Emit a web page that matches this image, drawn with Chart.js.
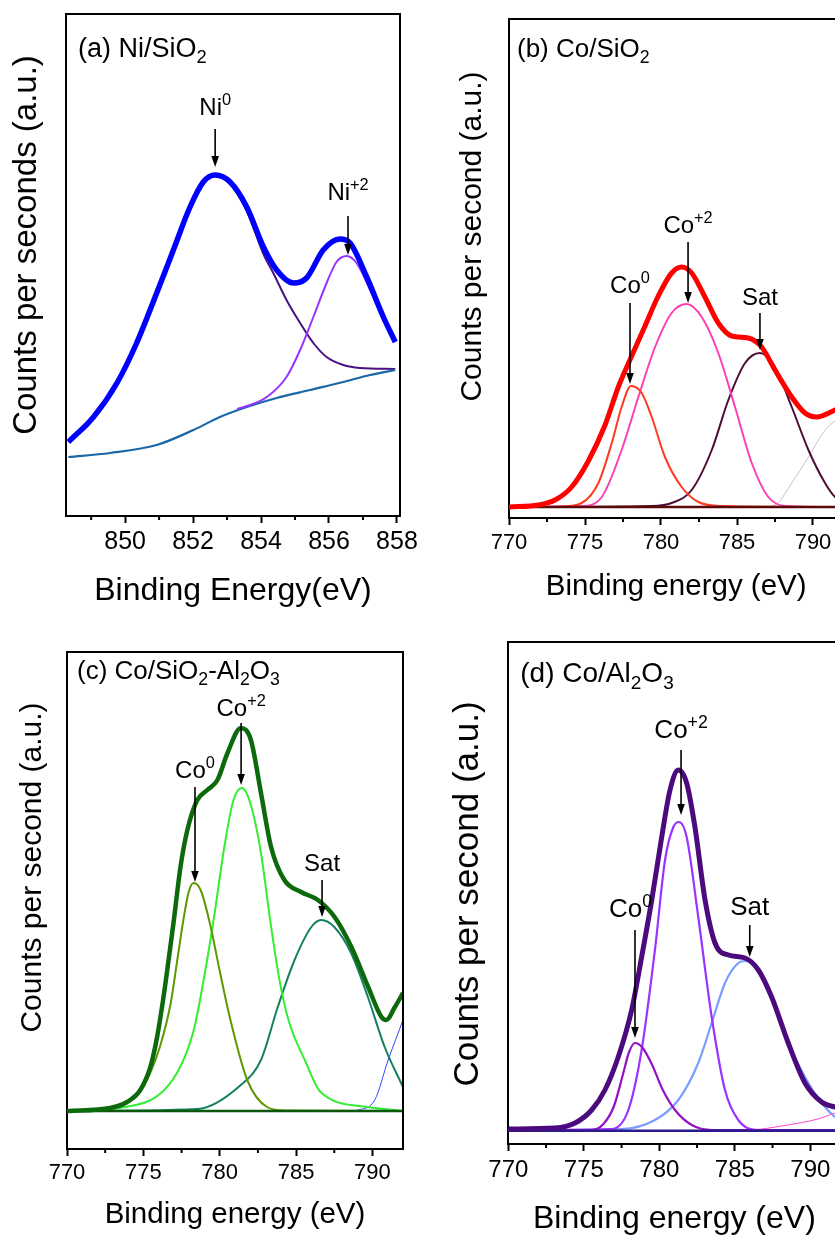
<!DOCTYPE html>
<html>
<head>
<meta charset="utf-8">
<script src="https://cdn.jsdelivr.net/npm/chart.js@4.4.1/dist/chart.umd.min.js"></script>
<style>
  html, body { margin: 0; padding: 0; background: #fff; }
  body { position: relative; width: 835px; height: 1237px; overflow: hidden; }
  canvas { position: absolute; }
</style>
</head>
<body>
<canvas id="chartA" width="420" height="630" style="left:0;top:0"></canvas>
<canvas id="chartB" width="460" height="630" style="left:420px;top:0"></canvas>
<canvas id="chartC" width="420" height="620" style="left:0;top:630px"></canvas>
<canvas id="chartD" width="460" height="620" style="left:420px;top:630px"></canvas>
<script>
// XPS Ni 2p / Co 2p fits (arbitrary counts)

// (a) Ni/SiO2
const aTicks = [850, 852, 854, 856, 858];
const aMinor = [849, 851, 853, 855, 857];
const aTotal = [[848.33, 74], [849.07, 99], [849.76, 133], [850.34, 173], [850.93, 223], [851.42, 266], [851.91, 309], [852.3, 334], [852.65, 341], [853.09, 334], [853.58, 309], [854.07, 269], [854.46, 246], [854.95, 233], [855.34, 238], [855.83, 266], [856.32, 277], [856.62, 273], [857.11, 239], [857.6, 199], [857.95, 174]];
const aNi0 = [[848.33, 74], [849.07, 99], [849.76, 133], [850.34, 173], [850.93, 223], [851.42, 266], [851.91, 309], [852.3, 334], [852.65, 341], [853.09, 333], [853.58, 305], [854.07, 262], [854.36, 243], [854.75, 216], [855.15, 193], [855.54, 173], [855.93, 159], [856.42, 151], [856.91, 148], [857.95, 147]];
const aNi2 = [[853.3, 107], [853.58, 110], [854.17, 119], [854.75, 139], [855.15, 166], [855.54, 199], [855.93, 233], [856.22, 254], [856.52, 260], [856.81, 253], [857.21, 226], [857.6, 196], [857.95, 174]];
const aBackground = [[848.33, 59], [849.56, 63], [850.93, 71], [852.01, 86], [852.79, 99], [853.58, 109], [854.46, 118], [855.44, 126], [856.42, 134], [857.21, 141], [857.95, 146]];

// (b) Co/SiO2
const coTicks = [770, 775, 780, 785, 790];
const coMinor = [772.5, 777.5, 782.5, 787.5];
const bTotal = [[770, 11], [771.93, 13], [773.03, 18], [774.12, 31], [775.22, 57], [776.32, 93], [777.19, 131], [778.07, 162], [778.95, 192], [779.82, 222], [780.7, 245], [781.36, 251], [782.02, 245], [782.89, 221], [783.77, 195], [784.65, 182], [785.74, 180], [786.62, 171], [787.5, 148], [788.6, 121], [789.47, 105], [790.24, 101], [791.45, 108], [792, 112]];
const bCo0 = [[770, 11], [773.5, 11.5], [774.78, 15], [775.88, 35], [776.76, 75], [777.41, 111], [778.03, 132], [778.73, 125], [779.39, 101], [780.26, 61], [781.36, 31], [782.46, 16], [784, 12], [792, 11]];
const bCo2 = [[770, 11], [774.78, 12], [776.1, 21], [777.41, 68], [778.51, 121], [779.61, 171], [780.7, 205], [781.69, 214], [782.68, 201], [783.77, 165], [784.87, 111], [785.97, 55], [787.06, 21], [788.2, 12], [792, 11]];
const bSat = [[770, 11], [779.39, 12], [780.7, 15], [782.02, 28], [783.34, 68], [784.43, 118], [785.53, 155], [786.51, 165], [787.5, 151], [788.6, 111], [789.7, 68], [790.79, 35], [791.45, 21], [792, 17]];
const bExtra = [[785, 11], [786.5, 11], [787.5, 13], [788.6, 35], [789.7, 61], [790.8, 88], [791.45, 97], [792, 103]];
const bBackground = [[770, 11], [792, 11]];

// (c) Co/SiO2-Al2O3
const cTotal = [[770, 38], [772.83, 41], [773.93, 47], [774.8, 59], [775.46, 82], [775.9, 112], [776.3, 150], [776.66, 190], [776.99, 228], [777.43, 282], [777.88, 319], [778.53, 349], [779.19, 359], [779.85, 369], [780.51, 396], [781.38, 421], [782.04, 409], [782.7, 356], [783.36, 302], [784.23, 269], [785.33, 257], [786.43, 249], [787.52, 232], [788.62, 202], [789.72, 162], [790.59, 132], [790.9, 129], [791.47, 142], [792, 156]];
const cCo0 = [[770, 38], [772.8, 40], [774.3, 50], [774.8, 58], [775.5, 78], [776.1, 103], [776.78, 145], [777.29, 196], [777.62, 229], [777.95, 256], [778.28, 266], [778.75, 259], [779.41, 222], [780.0, 178], [780.7, 129], [781.8, 69], [783.1, 42], [784.3, 38.5], [792, 38]];
const cCo2 = [[770, 38], [775.0, 46], [777.2, 76], [778.3, 119], [778.9, 165], [779.6, 229], [780.3, 302], [780.9, 349], [781.45, 361], [782.0, 346], [782.7, 296], [783.3, 229], [783.9, 170], [784.5, 129], [785.6, 88], [786.6, 57], [789.7, 42], [792, 38]];
const cSat = [[770, 38], [778.53, 40], [781.38, 64], [782.7, 89], [783.8, 142], [784.9, 189], [786.0, 222], [786.64, 229], [787.5, 222], [788.6, 196], [789.7, 152], [790.8, 102], [792, 62]];
const cExtra = [[788.5, 38], [789.06, 39], [790.15, 49], [791.03, 89], [792, 129]];
const cBackground = [[770, 38], [792, 38]];

// (d) Co/Al2O3
const dTotal = [[770, 15], [773.09, 16], [774.42, 21], [775.52, 34], [776.4, 54], [777.28, 87], [778.17, 134], [778.83, 187], [779.5, 244], [780.16, 307], [780.71, 354], [781.26, 374], [781.81, 361], [782.36, 317], [783.03, 244], [783.69, 201], [784.57, 189], [785.68, 186], [786.56, 174], [787.44, 147], [788.54, 101], [789.65, 61], [790.75, 42], [791.64, 37], [792, 36]];
const dCo0 = [[770, 14], [775.5, 14], [776.3, 20], [777.0, 38], [777.6, 70], [778.0, 92], [778.39, 101], [778.9, 96], [779.5, 80], [780.2, 55], [781.04, 34], [782.15, 19], [783.5, 14], [792, 14]];
const dCo2 = [[770, 14], [776.85, 15], [777.95, 34], [778.83, 94], [779.71, 194], [780.38, 284], [780.93, 317], [781.31, 322], [781.81, 307], [782.58, 227], [783.47, 127], [784.35, 54], [785.23, 24], [786.6, 14], [792, 14]];
const dSat = [[770, 14], [777.5, 15], [779.71, 24], [781.26, 44], [782.58, 81], [783.47, 121], [784.35, 161], [785.23, 181], [785.68, 183], [786.56, 174], [787.44, 147], [788.54, 101], [789.65, 67], [790.75, 41], [791.64, 27], [792, 24]];
const dExtra = [[784, 14], [785.8, 14], [788.5, 19], [790.5, 25], [791.64, 31], [792, 33]];
const dBackground = [[770, 13.3], [792, 13.3]];

// peak annotations (energy, label baseline, arrow start / tip in counts)
const aPeaks = [
  { label: "Ni", sup: "0", x: 852.65, textY: 401, from: 387, to: 349 },
  { label: "Ni", sup: "+2", x: 856.56, textY: 316, from: 300, to: 261 },
];
const bPeaks = [
  { label: "Co", sup: "0", x: 777.96, textY: 225, from: 215, to: 134 },
  { label: "Co", sup: "+2", x: 781.78, textY: 285, from: 276, to: 215 },
  { label: "Sat", sup: "", x: 786.51, textY: 213, from: 205, to: 168 },
];
const cPeaks = [
  { label: "Co", sup: "0", x: 778.38, textY: 371, from: 362, to: 267 },
  { label: "Co", sup: "+2", x: 781.4, textY: 433, from: 426, to: 364 },
  { label: "Sat", sup: "", x: 786.7, textY: 278, from: 269, to: 232 },
];
const dPeaks = [
  { label: "Co", sup: "0", x: 778.39, tx: 778.09, textY: 227, from: 214, to: 106 },
  { label: "Co", sup: "+2", x: 781.44, textY: 406, from: 394, to: 329 },
  { label: "Sat", sup: "", x: 785.99, textY: 229, from: 219, to: 187 },
];

const FONT = '"Liberation Sans", Arial, Helvetica, sans-serif';

function pts(arr) {
  return arr.map(([x, y]) => ({ x, y }));
}

function curve(data, color, width) {
  return {
    data: pts(data),
    borderColor: color,
    borderWidth: width,
    pointRadius: 0,
    fill: false,
    cubicInterpolationMode: "monotone",
  };
}

function flat(data, color, width) {
  return { data: pts(data), borderColor: color, borderWidth: width, pointRadius: 0, fill: false, tension: 0 };
}

// draws text made of [string, "sub"|"sup"|""] pieces, returns width
function richText(ctx, parts, size, x, y, measureOnly) {
  let cx = x;
  for (const [t, kind] of parts) {
    const s = kind ? size * 0.68 : size;
    const dy = kind === "sub" ? size * 0.24 : kind === "sup" ? -size * 0.4 : 0;
    ctx.font = `${s}px ${FONT}`;
    if (!measureOnly) ctx.fillText(t, cx, y + dy);
    cx += ctx.measureText(t).width;
  }
  return cx - x;
}

const decor = {
  id: "decor",
  afterDraw(chart, args, opts) {
    const { ctx, chartArea: a, scales } = chart;
    const xs = scales.x;
    const ys = scales.y;
    ctx.save();
    ctx.strokeStyle = "#000";
    ctx.fillStyle = "#000";

    // closing frame (top + right)
    ctx.lineWidth = 2;
    ctx.beginPath();
    ctx.moveTo(a.left - 1, a.top);
    ctx.lineTo(a.right, a.top);
    ctx.lineTo(a.right, a.bottom + 1);
    ctx.stroke();

    // minor ticks
    opts.minor.forEach((v) => {
      const px = xs.getPixelForValue(v);
      ctx.beginPath();
      ctx.moveTo(px, a.bottom);
      ctx.lineTo(px, a.bottom + 4);
      ctx.stroke();
    });

    // y title
    const yt = opts.yTitle;
    ctx.save();
    ctx.translate(a.left + yt.dx, a.top + yt.dy);
    ctx.rotate(-Math.PI / 2);
    ctx.font = `${yt.size}px ${FONT}`;
    ctx.textAlign = "center";
    ctx.textBaseline = "middle";
    ctx.fillText(yt.text, 0, 0);
    ctx.restore();

    // panel title
    ctx.textAlign = "left";
    ctx.textBaseline = "alphabetic";
    const pt = opts.panelTitle;
    richText(ctx, pt.parts, pt.size, a.left + pt.dx, a.top + pt.dy);

    // peak labels with arrows
    opts.peaks.forEach((p) => {
      const parts = [[p.label, ""]];
      if (p.sup) parts.push([p.sup, "sup"]);
      const w = richText(ctx, parts, opts.peakSize, 0, 0, true);
      const cx = xs.getPixelForValue(p.tx ?? p.x);
      richText(ctx, parts, opts.peakSize, cx - w / 2, ys.getPixelForValue(p.textY));
      const ax = xs.getPixelForValue(p.x);
      const y0 = ys.getPixelForValue(p.from);
      const y1 = ys.getPixelForValue(p.to);
      ctx.lineWidth = 1.6;
      ctx.beginPath();
      ctx.moveTo(ax, y0);
      ctx.lineTo(ax, y1 - 8);
      ctx.stroke();
      ctx.beginPath();
      ctx.moveTo(ax - 3.8, y1 - 11);
      ctx.lineTo(ax + 3.8, y1 - 11);
      ctx.lineTo(ax, y1);
      ctx.closePath();
      ctx.fill();
    });
    ctx.restore();
  },
};

function makePanel(id, cfg) {
  const ticks = cfg.ticks;
  new Chart(document.getElementById(id), {
    type: "line",
    data: { datasets: cfg.datasets },
    options: {
      responsive: false,
      animation: false,
      events: [],
      layout: { padding: cfg.pad },
      plugins: {
        legend: { display: false },
        tooltip: { enabled: false },
        decor: {
          minor: cfg.minor,
          yTitle: cfg.yTitle,
          panelTitle: cfg.panelTitle,
          peaks: cfg.peaks,
          peakSize: cfg.peakSize,
        },
      },
      scales: {
        x: {
          type: "linear",
          min: cfg.xMin,
          max: cfg.xMax,
          afterBuildTicks: (s) => {
            s.ticks = ticks.map((v) => ({ value: v }));
          },
          afterFit: (s) => {
            s.height = cfg.xHeight;
            s.paddingLeft = 0;
            s.paddingRight = 0;
          },
          grid: { display: true, drawOnChartArea: false, drawTicks: true, tickLength: 7, tickWidth: 2, tickColor: "#000" },
          border: { display: true, width: 2, color: "#000" },
          ticks: {
            color: "#000",
            padding: cfg.tickPad,
            maxRotation: 0,
            autoSkip: false,
            font: { family: FONT, size: cfg.tickSize },
          },
          title: {
            display: true,
            text: cfg.xTitle,
            color: "#000",
            padding: { top: 0, bottom: cfg.xTitlePad },
            font: { family: FONT, size: cfg.xTitleSize },
          },
        },
        y: {
          type: "linear",
          min: 0,
          max: cfg.yMax,
          afterFit: (s) => {
            s.width = cfg.yWidth;
            s.paddingTop = 0;
            s.paddingBottom = 0;
          },
          grid: { display: false },
          border: { display: true, width: 2, color: "#000" },
          ticks: { display: false },
        },
      },
    },
    plugins: [decor],
  });
}

makePanel("chartA", {
  xMin: 848.26, xMax: 858.09, yMax: 502,
  ticks: aTicks, minor: aMinor,
  tickSize: 25, tickPad: 4,
  pad: { left: 0, top: 14, right: 20, bottom: 0 },
  yWidth: 66, xHeight: 114,
  xTitle: "Binding Energy(eV)", xTitleSize: 32, xTitlePad: 20,
  yTitle: { text: "Counts per seconds (a.u.)", size: 33, dx: -39.5, dy: 231 },
  panelTitle: { parts: [["(a) Ni/SiO", ""], ["2", "sub"]], size: 27, dx: 12, dy: 43 },
  peaks: aPeaks, peakSize: 24,
  datasets: [
    curve(aTotal, "#0000ff", 5.5),
    curve(aNi2, "#9933ff", 2),
    curve(aBackground, "#1a67a8", 2.2),
    curve(aNi0, "#4a1180", 2),
  ],
});

makePanel("chartB", {
  xMin: 770, xMax: 792, yMax: 499,
  ticks: coTicks, minor: coMinor,
  tickSize: 22, tickPad: 5,
  pad: { left: 0, top: 19, right: 36.6, bottom: 0 },
  yWidth: 89, xHeight: 112,
  xTitle: "Binding energy (eV)", xTitleSize: 29.5, xTitlePad: 25.5,
  yTitle: { text: "Counts per second (a.u.)", size: 30, dx: -36.1, dy: 217.5 },
  panelTitle: { parts: [["(b) Co/SiO", ""], ["2", "sub"]], size: 26, dx: 8, dy: 38 },
  peaks: bPeaks, peakSize: 24,
  datasets: [
    curve(bTotal, "#ff0000", 5),
    flat(bBackground, "#5a0a0a", 2.5),
    curve(bCo0, "#ff3a22", 2),
    curve(bCo2, "#ff3fb4", 2),
    curve(bSat, "#4d0d35", 2),
    curve(bExtra, "#c4c4c4", 1),
  ],
});

makePanel("chartC", {
  xMin: 770, xMax: 792, yMax: 497,
  ticks: coTicks, minor: coMinor,
  tickSize: 22, tickPad: 4,
  pad: { left: 0, top: 22, right: 17, bottom: 0 },
  yWidth: 67, xHeight: 101,
  xTitle: "Binding energy (eV)", xTitleSize: 29.5, xTitlePad: 17.5,
  yTitle: { text: "Counts per second (a.u.)", size: 30, dx: -34.1, dy: 215.5 },
  panelTitle: { parts: [["(c) Co/SiO", ""], ["2", "sub"], ["-Al", ""], ["2", "sub"], ["O", ""], ["3", "sub"]], size: 26, dx: 10, dy: 27 },
  peaks: cPeaks, peakSize: 24,
  datasets: [
    curve(cTotal, "#0c6a0c", 4.5),
    flat(cBackground, "#0a560a", 2.5),
    curve(cCo0, "#5e9800", 2),
    curve(cCo2, "#33ee33", 2),
    curve(cSat, "#148062", 2),
    curve(cExtra, "#3344ff", 1),
  ],
});

makePanel("chartD", {
  xMin: 770, xMax: 792, yMax: 502,
  ticks: coTicks, minor: coMinor,
  tickSize: 24, tickPad: 4.6,
  pad: { left: 0, top: 12, right: 39.5, bottom: 0 },
  yWidth: 88.3, xHeight: 106,
  xTitle: "Binding energy (eV)", xTitleSize: 32, xTitlePad: 12,
  yTitle: { text: "Counts per second (a.u.)", size: 35, dx: -40.4, dy: 252 },
  panelTitle: { parts: [["(d) Co/Al", ""], ["2", "sub"], ["O", ""], ["3", "sub"]], size: 28, dx: 12, dy: 40 },
  peaks: dPeaks, peakSize: 26,
  datasets: [
    curve(dTotal, "#4b0a7d", 5),
    flat(dBackground, "#2b1a8c", 2.5),
    curve(dCo0, "#9410c4", 2.2),
    curve(dCo2, "#9b33ff", 2.2),
    curve(dSat, "#7b9dff", 2.2),
    curve(dExtra, "#ff44cc", 1),
  ],
});
</script>
</body>
</html>
